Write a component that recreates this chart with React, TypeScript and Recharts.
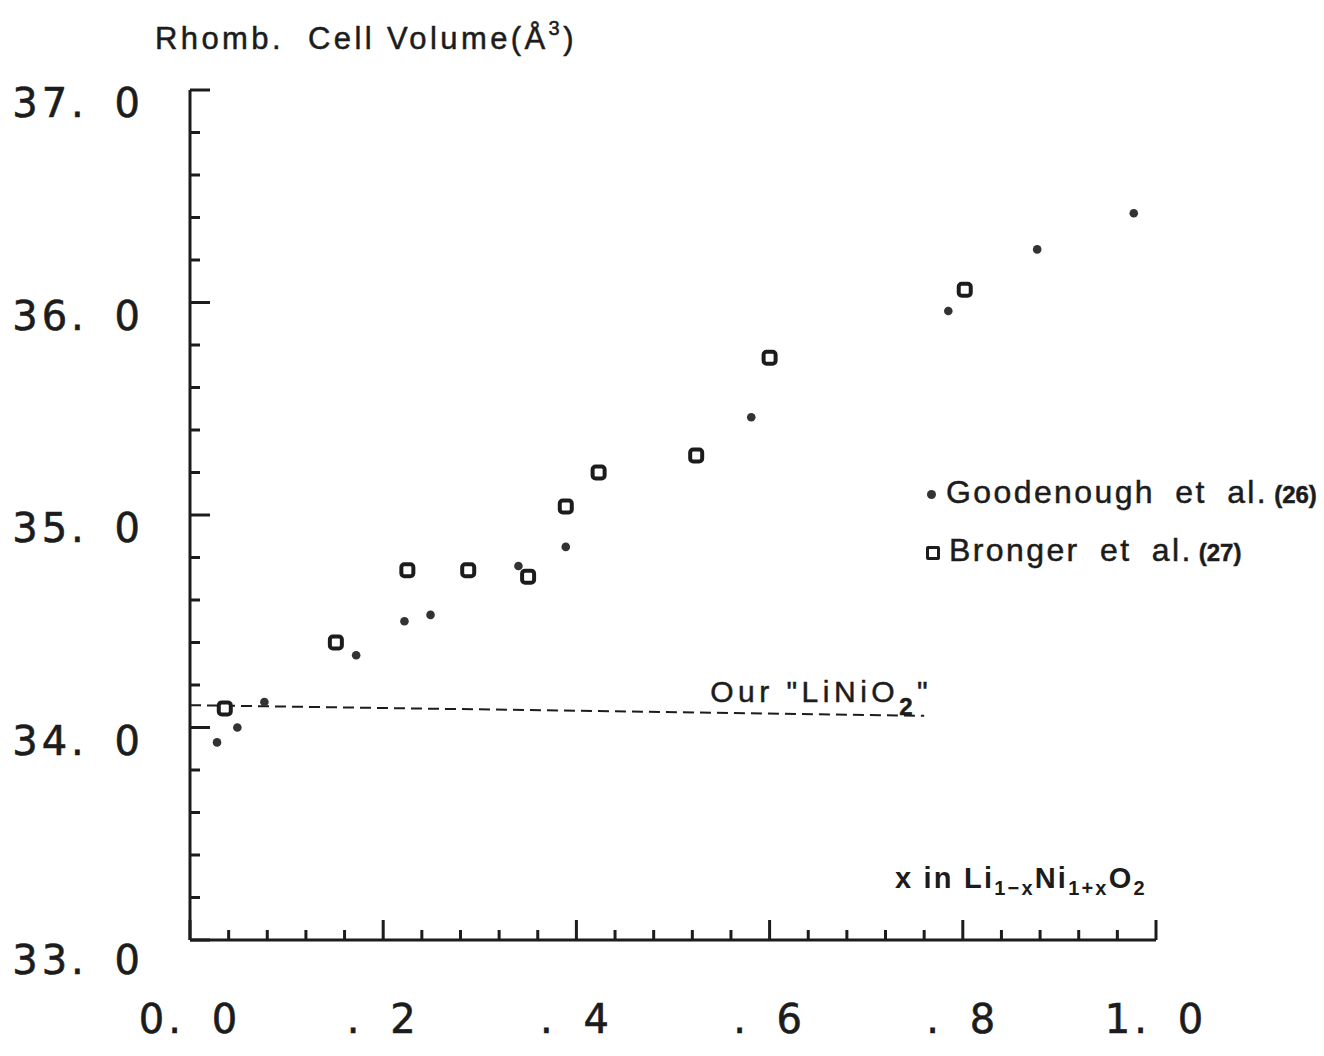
import { ScatterChart, Scatter, XAxis, YAxis, ReferenceLine } from "recharts";

// Goodenough et al. (26) — small filled dots
const goodX = [0.028, 0.049, 0.077, 0.172, 0.222, 0.249, 0.340, 0.389, 0.581, 0.785, 0.877, 0.977];
const goodY = [33.93, 34.0, 34.12, 34.34, 34.5, 34.53, 34.76, 34.85, 35.46, 35.96, 36.25, 36.42];

// Bronger et al. (27) — open squares
const bronX = [0.036, 0.151, 0.225, 0.288, 0.35, 0.389, 0.423, 0.524, 0.6, 0.802];
const bronY = [34.09, 34.4, 34.74, 34.74, 34.71, 35.04, 35.2, 35.28, 35.74, 36.06];

// "Our LiNiO2" dashed line (ends)
const ourX = [0, 0.76];
const ourY = [34.105, 34.055];

const xTicks = [0, 0.04, 0.08, 0.12, 0.16, 0.2, 0.24, 0.28, 0.32, 0.36, 0.4, 0.44, 0.48, 0.52, 0.56, 0.6, 0.64, 0.68, 0.72, 0.76, 0.8, 0.84, 0.88, 0.92, 0.96, 1.0];
const xMajor: Record<string, string> = { "0": "0. 0", "0.2": ". 2", "0.4": ". 4", "0.6": ". 6", "0.8": ". 8", "1": "1. 0" };
const yTicks = [33, 33.2, 33.4, 33.6, 33.8, 34, 34.2, 34.4, 34.6, 34.8, 35, 35.2, 35.4, 35.6, 35.8, 36, 36.2, 36.4, 36.6, 36.8, 37];
const yMajor: Record<string, string> = { "33": "33. 0", "34": "34. 0", "35": "35. 0", "36": "36. 0", "37": "37. 0" };

const goodData = goodX.map((x, i) => ({ x, y: goodY[i] }));
const bronData = bronX.map((x, i) => ({ x, y: bronY[i] }));

const INK = "#1c1c1c";
const numFont = "'DejaVu Sans', sans-serif";
const txtFont = "'Liberation Sans', Arial, sans-serif";

function XTick(props: any) {
  const { x, y, payload } = props;
  const lab = xMajor[String(+payload.value.toFixed(2))];
  const len = lab ? 20 : 10;
  return (
    <g>
      <line x1={x} y1={y} x2={x} y2={y - len} stroke={INK} strokeWidth={3} />
      {lab && (
        <text x={x} y={y + 93} textAnchor="middle" fontFamily={numFont} fontSize={40}
          letterSpacing={4} wordSpacing={10} fill={INK} stroke={INK} strokeWidth={0.6}>{lab}</text>
      )}
    </g>
  );
}

function YTick(props: any) {
  const { x, y, payload } = props;
  const key = String(+payload.value.toFixed(1));
  const lab = yMajor[key];
  const len = lab ? 20 : 10;
  return (
    <g>
      <line x1={x} y1={y} x2={x + len} y2={y} stroke={INK} strokeWidth={3} />
      {lab && (
        <text x={x - 46} y={y + (key === "33" ? 34 : 27)} textAnchor="end" fontFamily={numFont}
          fontSize={40} letterSpacing={4} wordSpacing={10} fill={INK} stroke={INK} strokeWidth={0.6}>{lab}</text>
      )}
    </g>
  );
}

function Dot(props: any) {
  const { cx, cy } = props;
  return <circle cx={cx} cy={cy} r={4.3} fill="#333" />;
}

function Sq(props: any) {
  const { cx, cy } = props;
  return <rect x={cx - 6} y={cy - 6} width={12} height={12} rx={3} fill="#fff" stroke={INK} strokeWidth={4} />;
}

function OurLabel(props: any) {
  const vb = props.viewBox || {};
  const xr = (vb.x ?? 0) + (vb.width ?? 0);
  const yy = (vb.y ?? 0) - 3;
  return (
    <text x={xr + 8} y={yy} textAnchor="end" fontFamily={txtFont} fontSize={30} letterSpacing={4.5} fill={INK}
      stroke={INK} strokeWidth={0.5}>
      Our "LiNiO<tspan dy={13} fontSize={24} fontWeight="bold">2</tspan><tspan dy={-13}>"</tspan>
    </text>
  );
}

export default function App() {
  return (
    <div style={{ position: "absolute", left: 0, top: 0, width: 1324, height: 1056, background: "#fff" }}>
      <ScatterChart width={1324} height={1056} margin={{ top: 90, right: 168, bottom: 0, left: 0 }}>
        <XAxis type="number" dataKey="x" domain={[0, 1]} ticks={xTicks} interval={0} height={116}
          tickSize={0} tickMargin={0} tickLine={false} axisLine={{ stroke: INK, strokeWidth: 3 }}
          tick={<XTick />} allowDataOverflow />
        <YAxis type="number" dataKey="y" domain={[33, 37]} ticks={yTicks} interval={0} width={190}
          tickSize={0} tickMargin={0} tickLine={false} axisLine={{ stroke: INK, strokeWidth: 3 }}
          tick={<YTick />} allowDataOverflow />
        <ReferenceLine
          segment={[{ x: ourX[0], y: ourY[0] }, { x: ourX[1], y: ourY[1] }]}
          stroke={INK} strokeWidth={2} strokeDasharray="11 6" label={<OurLabel />} ifOverflow="visible" />
        <Scatter data={goodData} shape={<Dot />} isAnimationActive={false} />
        <Scatter data={bronData} shape={<Sq />} isAnimationActive={false} />
      </ScatterChart>

      <div style={{ position: "absolute", left: 155, top: 21, fontFamily: txtFont, fontSize: 31, letterSpacing: 3.4, color: INK, whiteSpace: "nowrap", WebkitTextStroke: "0.5px #1c1c1c" }}>
        Rhomb.&nbsp; Cell Volume(Å<sup style={{ fontSize: 20, verticalAlign: "top", position: "relative", top: -4 }}>3</sup>)
      </div>

      <div style={{ position: "absolute", left: 895, top: 862, fontFamily: txtFont, fontSize: 29, fontWeight: "bold", color: INK, whiteSpace: "nowrap", letterSpacing: 2.2 }}>
        x in Li<sub style={{ fontSize: 20 }}>1−x</sub>Ni<sub style={{ fontSize: 20 }}>1+x</sub>O<sub style={{ fontSize: 20 }}>2</sub>
      </div>

      <div style={{ position: "absolute", left: 927, top: 474, fontFamily: txtFont, fontSize: 32, color: INK, whiteSpace: "nowrap", letterSpacing: 2.4, wordSpacing: 9, WebkitTextStroke: "0.5px #1c1c1c" }}>
        <span style={{ display: "inline-block", width: 9, height: 9, borderRadius: 5, background: "#333", marginRight: 10, verticalAlign: "middle" }} />
        Goodenough et al.<span style={{ fontSize: 24, fontWeight: "bold", letterSpacing: 0, marginLeft: 6 }}>(26)</span>
      </div>
      <div style={{ position: "absolute", left: 926, top: 532, fontFamily: txtFont, fontSize: 32, color: INK, whiteSpace: "nowrap", letterSpacing: 2.4, wordSpacing: 9, WebkitTextStroke: "0.5px #1c1c1c" }}>
        <span style={{ display: "inline-block", width: 8, height: 8, borderRadius: 2, border: `3px solid ${INK}`, marginRight: 9, verticalAlign: "middle" }} />
        Bronger et al.<span style={{ fontSize: 24, fontWeight: "bold", letterSpacing: 0, marginLeft: 6 }}>(27)</span>
      </div>
    </div>
  );
}
